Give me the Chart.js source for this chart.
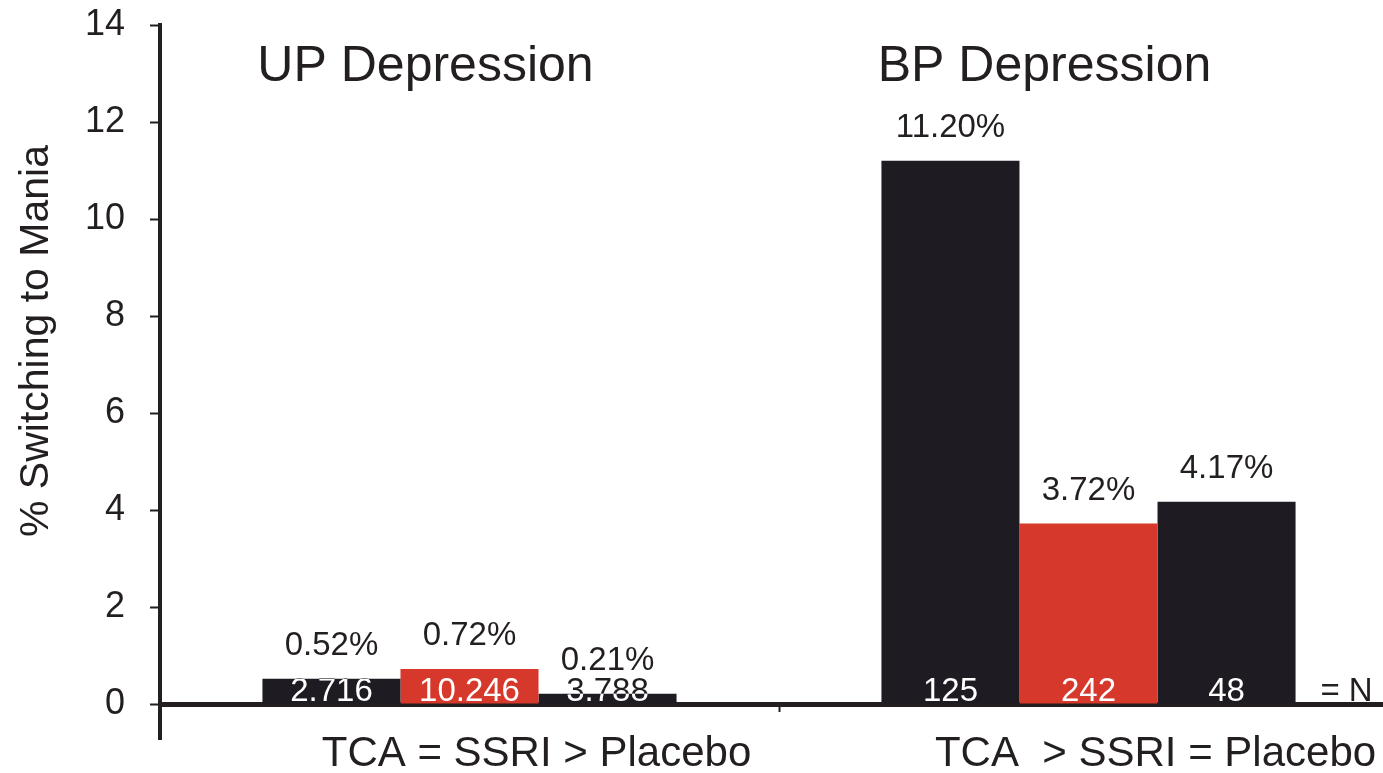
<!DOCTYPE html>
<html>
<head>
<meta charset="utf-8">
<script src="https://cdn.jsdelivr.net/npm/chart.js@4.4.1/dist/chart.umd.min.js"></script>
<style>
  html, body { margin: 0; padding: 0; background: #fff; overflow: hidden; }
  #canvas { display: block; }
</style>
</head>
<body>
<canvas id="canvas" width="1398" height="773"></canvas>
<script>
// Switch rates (%) per treatment, one value per depression group
const groups = ['UP Depression', 'BP Depression'];
const comparisons = ['TCA = SSRI > Placebo', 'TCA  > SSRI = Placebo'];
const treatments = ['TCA', 'SSRI', 'Placebo'];
const tcaSwitch = [0.52, 11.20];
const ssriSwitch = [0.72, 3.72];
const placeboSwitch = [0.21, 4.17];
// patient counts printed inside the bars
const tcaN = ['2.716', '125'];
const ssriN = ['10.246', '242'];
const placeboN = ['3.788', '48'];
const yTicks = [0, 2, 4, 6, 8, 10, 12, 14];

const INK = '#231f20';
const BAR_DARK = '#1e1b22';
const BAR_RED = '#d6392b';
const FONT = '"Liberation Sans", Arial, Helvetica, sans-serif';

// labels, group titles, axis title and the axis stub below zero
const annotate = {
    id: 'annotate',
    afterDraw(chart) {
        const ctx = chart.ctx;
        const area = chart.chartArea;
        const xs = chart.scales.x;
        ctx.save();
        ctx.textAlign = 'center';
        ctx.textBaseline = 'alphabetic';

        chart.data.datasets.forEach((ds, i) => {
            const meta = chart.getDatasetMeta(i);
            meta.data.forEach((bar, j) => {
                ctx.font = '33px ' + FONT;
                ctx.fillStyle = INK;
                ctx.fillText(ds.data[j].toFixed(2) + '%', bar.x, bar.y - 24);

                // N text: white on the bar, dark where it sticks out
                const left = bar.x - bar.width / 2;
                const ny = area.bottom - 3;
                ctx.save();
                ctx.beginPath();
                ctx.rect(0, 0, chart.width, chart.height);
                ctx.rect(left, bar.y, bar.width, bar.base - bar.y);
                ctx.clip('evenodd');
                ctx.fillStyle = INK;
                ctx.fillText(ds.counts[j], bar.x, ny);
                ctx.restore();
                ctx.save();
                ctx.beginPath();
                ctx.rect(left, bar.y, bar.width, bar.base - bar.y);
                ctx.clip();
                ctx.fillStyle = '#fff';
                ctx.fillText(ds.counts[j], bar.x, ny);
                ctx.restore();
            });
        });

        // "= N" after the last bar
        const lastMeta = chart.getDatasetMeta(chart.data.datasets.length - 1);
        const lastBar = lastMeta.data[lastMeta.data.length - 1];
        ctx.font = '33px ' + FONT;
        ctx.fillStyle = INK;
        ctx.fillText('= N', lastBar.x + lastBar.width / 2 + 51, area.bottom - 3);

        // group titles
        ctx.font = '50px ' + FONT;
        groups.forEach((g, j) => {
            ctx.fillText(g, xs.getPixelForValue(j) - 44, 81);
        });

        // y axis continues a little below the x axis
        ctx.strokeStyle = INK;
        ctx.lineWidth = 4;
        ctx.beginPath();
        ctx.moveTo(area.left, area.bottom);
        ctx.lineTo(area.left, 740);
        ctx.stroke();

        // y title
        ctx.translate(48, 341);
        ctx.rotate(-Math.PI / 2);
        ctx.font = '41px ' + FONT;
        ctx.fillText('% Switching to Mania', 0, 0);
        ctx.restore();
    }
};

new Chart(document.querySelector('#canvas'), {
    type: 'bar',
    data: {
        labels: comparisons,
        datasets: [
            { label: treatments[0], data: tcaSwitch, counts: tcaN, backgroundColor: BAR_DARK },
            { label: treatments[1], data: ssriSwitch, counts: ssriN, backgroundColor: BAR_RED },
            { label: treatments[2], data: placeboSwitch, counts: placeboN, backgroundColor: BAR_DARK }
        ]
    },
    options: {
        responsive: false,
        animation: false,
        categoryPercentage: 0.669,
        barPercentage: 1.0,
        borderWidth: 0,
        layout: { padding: { top: 25, right: 0, left: 0, bottom: 0 } },
        plugins: {
            legend: { display: false },
            tooltip: { enabled: false },
            title: { display: false }
        },
        scales: {
            x: {
                z: 1,
                grid: {
                    drawOnChartArea: false,
                    drawTicks: true,
                    tickLength: 8,
                    tickWidth: 2,
                    tickColor: INK,
                    offset: true
                },
                border: { display: true, color: INK, width: 5 },
                ticks: {
                    color: INK,
                    font: { family: FONT, size: 42 },
                    padding: 17,
                    labelOffset: 67,
                    maxRotation: 0,
                    autoSkip: false
                },
                afterFit: s => {
                    s.height = 69;
                    s.paddingLeft = 0;
                    s.paddingRight = 0;
                }
            },
            y: {
                min: 0,
                max: 14,
                grid: {
                    drawOnChartArea: false,
                    tickLength: 10,
                    tickWidth: 2,
                    tickColor: INK
                },
                border: { display: true, color: INK, width: 4 },
                ticks: {
                    color: INK,
                    font: { family: FONT, size: 36 },
                    padding: 25
                },
                afterBuildTicks: s => { s.ticks = yTicks.map(v => ({ value: v })); },
                afterFit: s => {
                    s.width = 160;
                    s.paddingTop = 0;
                    s.paddingBottom = 0;
                }
            }
        }
    },
    plugins: [annotate]
});
</script>
</body>
</html>
